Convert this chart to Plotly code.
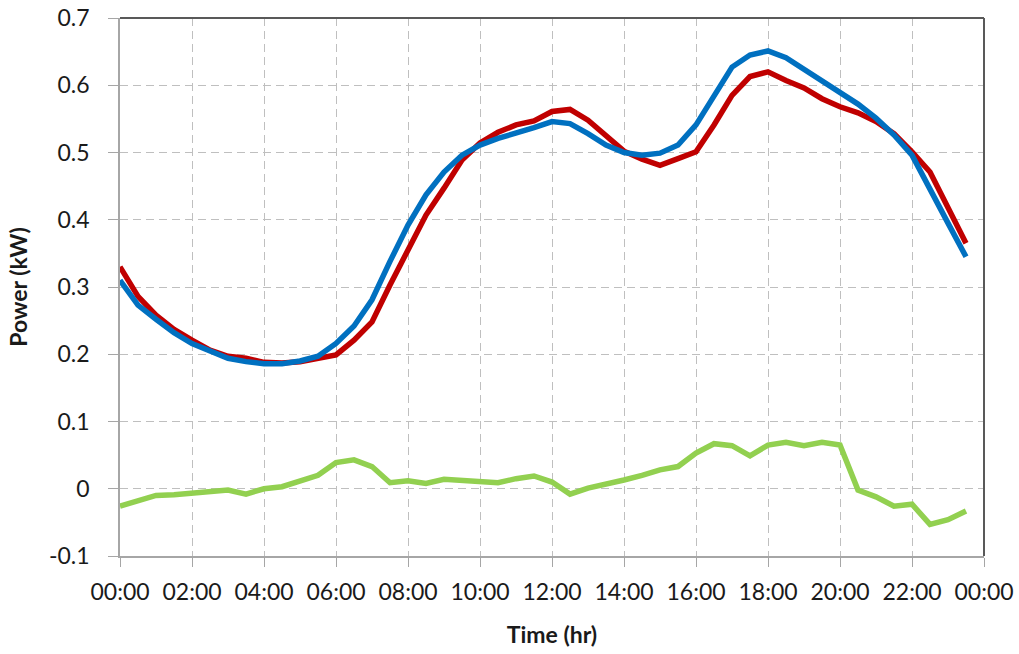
import plotly.graph_objects as go
import pandas as pd

times = ["00:00","00:30","01:00","01:30","02:00","02:30","03:00","03:30",
         "04:00","04:30","05:00","05:30","06:00","06:30","07:00","07:30",
         "08:00","08:30","09:00","09:30","10:00","10:30","11:00","11:30",
         "12:00","12:30","13:00","13:30","14:00","14:30","15:00","15:30",
         "16:00","16:30","17:00","17:30","18:00","18:30","19:00","19:30",
         "20:00","20:30","21:00","21:30","22:00","22:30","23:00","23:30"]

red = [0.330, 0.286, 0.258, 0.237, 0.221, 0.206, 0.197, 0.194,
       0.188, 0.187, 0.189, 0.194, 0.199, 0.221, 0.248, 0.303,
       0.355, 0.407, 0.447, 0.489, 0.514, 0.530, 0.541, 0.547,
       0.561, 0.564, 0.548, 0.524, 0.502, 0.490, 0.481, 0.491,
       0.501, 0.541, 0.585, 0.613, 0.620, 0.607, 0.596, 0.580,
       0.568, 0.559, 0.546, 0.528, 0.501, 0.471, 0.419, 0.365]

blue = [0.310, 0.273, 0.252, 0.232, 0.216, 0.204, 0.194, 0.189,
        0.186, 0.186, 0.190, 0.197, 0.216, 0.242, 0.281, 0.338,
        0.392, 0.437, 0.471, 0.496, 0.511, 0.521, 0.528, 0.537,
        0.546, 0.543, 0.528, 0.511, 0.500, 0.496, 0.499, 0.511,
        0.541, 0.585, 0.627, 0.645, 0.651, 0.641, 0.624, 0.605,
        0.590, 0.572, 0.551, 0.526, 0.496, 0.444, 0.395, 0.345]

green = [-0.026, -0.017, -0.010, -0.009, -0.006, -0.003, -0.002, -0.008,
         0.000, 0.003, 0.011, 0.020, 0.039, 0.043, 0.033, 0.009,
         0.012, 0.008, 0.014, 0.013, 0.010, 0.009, 0.015, 0.019,
         0.010, -0.008, 0.001, 0.006, 0.013, 0.020, 0.028, 0.033,
         0.053, 0.067, 0.064, 0.049, 0.065, 0.069, 0.064, 0.069,
         0.065, -0.002, -0.012, -0.026, -0.023, -0.053, -0.046, -0.033]

y_ticks = [-0.1, 0, 0.1, 0.2, 0.3, 0.4, 0.5, 0.6, 0.7]
y_labels = ["-0.1", "0", "0.1", "0.2", "0.3", "0.4", "0.5", "0.6", "0.7"]

x = pd.to_datetime(["2000-01-01 " + t for t in times])

fig = go.Figure()
for vals, col in [(green, "#92D050"), (red, "#C00000"), (blue, "#0070C0")]:
    fig.add_trace(go.Scatter(x=x, y=vals, mode="lines",
                             line=dict(color=col, width=5.5), showlegend=False))

tick_font = dict(family="Lato, Carlito, sans-serif", size=23, color="#1a1a1a")
title_font = dict(family="Lato, Carlito, sans-serif", size=23, color="#1a1a1a")

fig.update_layout(
    width=1019, height=654,
    margin=dict(l=120, r=35, t=18, b=98),
    plot_bgcolor="white", paper_bgcolor="white",
    xaxis=dict(
        type="date",
        range=["2000-01-01 00:00", "2000-01-02 00:00"],
        dtick=2 * 3600 * 1000, tick0="2000-01-01 00:00",
        tickformat="%H:%M",
        showgrid=True, gridcolor="#BFBFBF", griddash="8px,5px", gridwidth=1,
        showline=True, linecolor="#A6A6A6", linewidth=1.5,
        ticks="outside", ticklen=9, tickcolor="#A6A6A6",
        ticklabelstandoff=6, ticklabeloverflow="allow",
        tickfont=tick_font,
        title=dict(text="<b>Time (hr)</b>", font=title_font, standoff=23),
        zeroline=False, automargin=False,
    ),
    yaxis=dict(
        range=[-0.1, 0.7],
        tickvals=y_ticks, ticktext=y_labels,
        showgrid=True, gridcolor="#BFBFBF", griddash="8px,5px", gridwidth=1,
        showline=True, linecolor="#A6A6A6", linewidth=1.5,
        ticks="outside", ticklen=10, tickcolor="#A6A6A6",
        ticklabelstandoff=14, ticklabeloverflow="allow",
        tickfont=tick_font,
        title=dict(text="<b>Power (kW)</b>", font=title_font, standoff=15),
        zeroline=False, automargin=False,
    ),
    shapes=[
        dict(type="line", xref="paper", yref="paper", x0=0, x1=1, y0=1, y1=1,
             line=dict(color="#595959", width=2)),
        dict(type="line", xref="paper", yref="paper", x0=1, x1=1, y0=0, y1=1,
             line=dict(color="#595959", width=2)),
    ],
)

# remove the browser's default 8px body margin so the figure fills the window
fig.write_html("out.html",
               config={"displayModeBar": False},
               post_script="document.body.style.margin='0';document.body.style.overflow='hidden';")
